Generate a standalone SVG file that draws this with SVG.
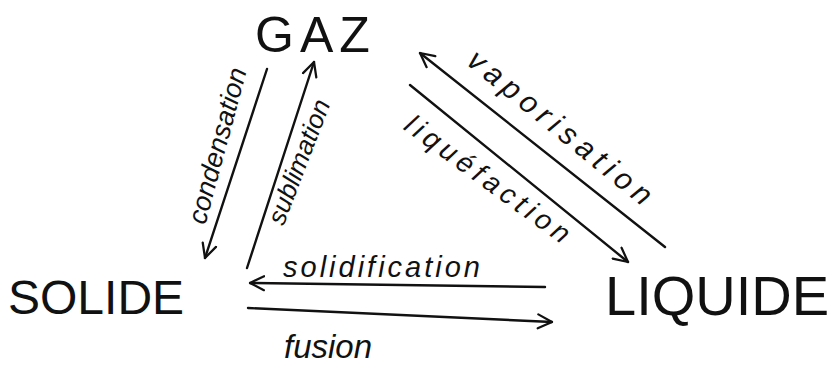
<svg xmlns="http://www.w3.org/2000/svg" width="838" height="374" viewBox="0 0 838 374">
<style>
.node{font-family:"Liberation Sans","DejaVu Sans",sans-serif;fill:#111;font-weight:normal}
.lbl{font-family:"Liberation Sans","DejaVu Sans",sans-serif;font-style:italic;fill:#111;text-anchor:middle}
.cn{stroke:#111;stroke-width:2.4;fill:none;stroke-linecap:round;marker-end:url(#ah)}
</style>
<defs>
<marker id="ah" viewBox="0 0 12 12" refX="11" refY="6" markerWidth="7" markerHeight="7" orient="auto" markerUnits="strokeWidth">
<path d="M1,1 L11,6 L1,11" fill="none" stroke="#111" stroke-width="1.6" stroke-linecap="round" stroke-linejoin="round"/>
</marker>
</defs>
<rect width="838" height="374" fill="#fff"/>
<g id="gaz"><text class="node" x="255" y="52" font-size="50" letter-spacing="6">GAZ</text></g>
<g id="solide"><text class="node" x="8" y="314" font-size="48">SOLIDE</text></g>
<g id="liquide"><text class="node" x="605" y="315" font-size="56">LIQUIDE</text></g>
<g id="connectors">
<line class="cn" x1="267" y1="69" x2="205" y2="258"/>
<line class="cn" x1="247" y1="268" x2="314" y2="62"/>
<line class="cn" x1="665" y1="247" x2="420" y2="53"/>
<line class="cn" x1="410" y1="85" x2="628" y2="262"/>
<line class="cn" x1="545" y1="287" x2="250" y2="283"/>
<line class="cn" x1="248" y1="308" x2="552" y2="322"/>
<text class="lbl" font-size="27" transform="translate(226,148) rotate(-75)">condensation</text>
<text class="lbl" font-size="26" transform="translate(307,165) rotate(-69)">sublimation</text>
<text class="lbl" font-size="30" letter-spacing="6" transform="translate(556,137) rotate(39)">vaporisation</text>
<text class="lbl" font-size="28" letter-spacing="5" transform="translate(484,188) rotate(36)">liquéfaction</text>
<text class="lbl" font-size="29" letter-spacing="3" x="383" y="277">solidification</text>
<text class="lbl" font-size="33" x="328" y="358">fusion</text>
</g>
</svg>
